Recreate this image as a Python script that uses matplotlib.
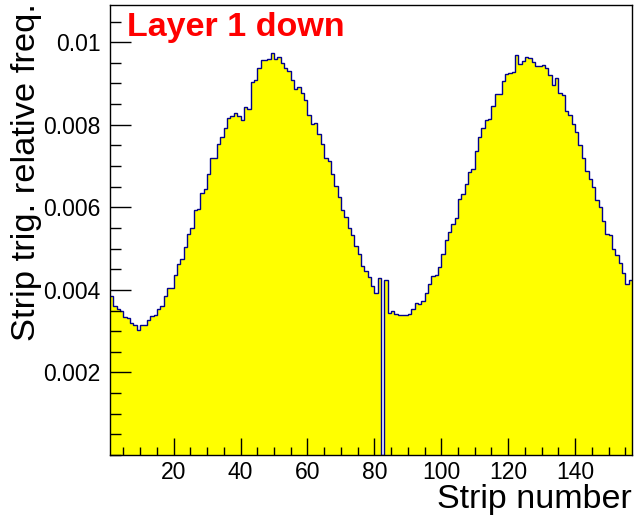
import numpy as np
import matplotlib
matplotlib.use("Agg")
import matplotlib.pyplot as plt
from matplotlib.ticker import MultipleLocator, FixedLocator, FuncFormatter

plt.rcParams['font.family'] = ['Liberation Sans', 'DejaVu Sans']

# strip numbers 1..156, relative trigger frequency per strip
strips = np.arange(1, 157)
freq = [
    0.00385, 0.00361, 0.00353, 0.00349, 0.00335, 0.00332, 0.00319, 0.00314, 0.00303, 0.00314,
    0.00314, 0.00328, 0.00337, 0.00338, 0.00353, 0.00362, 0.00384, 0.00404, 0.00405, 0.00437,
    0.00462, 0.00474, 0.00503, 0.00535, 0.00551, 0.00593, 0.00597, 0.00635, 0.00644, 0.00681,
    0.00720, 0.00720, 0.00753, 0.00771, 0.00791, 0.00816, 0.00822, 0.00828, 0.00822, 0.00812,
    0.00842, 0.00838, 0.00903, 0.00909, 0.00937, 0.00957, 0.00957, 0.00960, 0.00973, 0.00960,
    0.00963, 0.00949, 0.00937, 0.00930, 0.00909, 0.00886, 0.00892, 0.00878, 0.00860, 0.00824,
    0.00801, 0.00803, 0.00778, 0.00753, 0.00720, 0.00712, 0.00680, 0.00652, 0.00626, 0.00593,
    0.00576, 0.00551, 0.00533, 0.00506, 0.00487, 0.00458, 0.00446, 0.00432, 0.00409, 0.00392,
    0.00429, 0.0, 0.00424, 0.00345, 0.00349, 0.00341, 0.00338, 0.00338, 0.00338, 0.00341,
    0.00353, 0.00367, 0.00365, 0.00374, 0.00392, 0.00413, 0.00433, 0.00437, 0.00455, 0.00488,
    0.00521, 0.00539, 0.00560, 0.00573, 0.00620, 0.00631, 0.00656, 0.00686, 0.00693, 0.00737,
    0.00770, 0.00792, 0.00812, 0.00814, 0.00846, 0.00874, 0.00875, 0.00905, 0.00923, 0.00925,
    0.00927, 0.00969, 0.00947, 0.00955, 0.00965, 0.00961, 0.00953, 0.00943, 0.00943, 0.00945,
    0.00937, 0.00921, 0.00896, 0.00914, 0.00876, 0.00872, 0.00833, 0.00824, 0.00801, 0.00783,
    0.00751, 0.00720, 0.00689, 0.00668, 0.00649, 0.00618, 0.00601, 0.00568, 0.00535, 0.00533,
    0.00498, 0.00484, 0.00464, 0.00441, 0.00414, 0.00424,
]
x_ticks = [20, 40, 60, 80, 100, 120, 140]
y_ticks = [0.002, 0.004, 0.006, 0.008, 0.01]
title = "Layer 1 down"
xlabel = "Strip number"
ylabel = "Strip trig. relative freq."

edges = np.append(strips, strips[-1] + 1)

fig = plt.figure(figsize=(6.34, 5.15), dpi=100)
ax = fig.add_axes([110/634, 1-455/515, 522/634, 450/515])

ax.stairs(freq, edges, fill=True, color='#ffff00', baseline=0)
ax.stairs(freq, edges, color='#00008f', linewidth=1.0, baseline=None)

ax.set_xlim(1, 157)
ax.set_ylim(0, 0.0109)

ax.xaxis.set_major_locator(FixedLocator(x_ticks))
ax.xaxis.set_minor_locator(MultipleLocator(5))
ax.yaxis.set_major_locator(FixedLocator(y_ticks))
ax.yaxis.set_minor_locator(MultipleLocator(0.0005))
ax.yaxis.set_major_formatter(FuncFormatter(lambda v, p: ('%g' % round(v, 4))))

ax.tick_params(axis='both', which='both', direction='in', top=False, right=False,
               labelsize=16.5, color='black')
ax.tick_params(axis='y', which='major', length=15, width=1, pad=7)
ax.tick_params(axis='y', which='minor', length=8, width=1)
ax.tick_params(axis='x', which='major', length=12, width=1, pad=4)
ax.tick_params(axis='x', which='minor', length=6, width=1)
for s in ax.spines.values():
    s.set_linewidth(1.0)
    s.set_zorder(5)

ax.text(0.033, 0.931, title, transform=ax.transAxes, color='#ff0000',
        fontsize=24.5, fontweight='bold', va='baseline', ha='left')

fig.text(632/634, 1-508/515, xlabel, ha='right', va='baseline', fontsize=24.5)
fig.text(27/634, 1-3/515, ylabel, ha='center', va='top', rotation=90, fontsize=24.8)

fig.savefig('out.png', dpi=100)
